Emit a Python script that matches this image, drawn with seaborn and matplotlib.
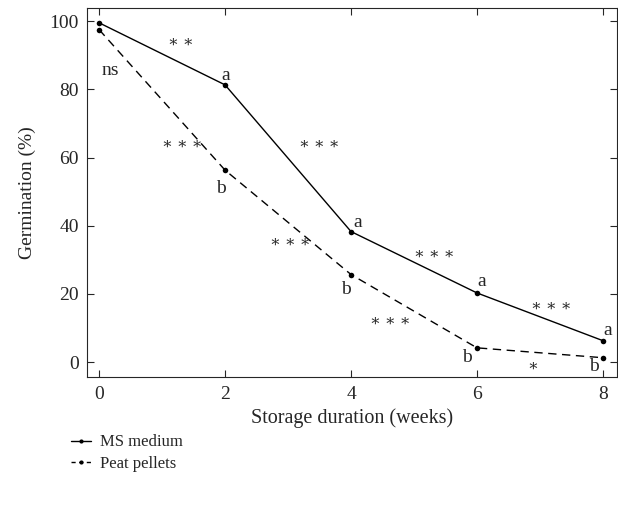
import numpy as np
import pandas as pd
import matplotlib
matplotlib.use("Agg")
import matplotlib.pyplot as plt
import seaborn as sns
from matplotlib.lines import Line2D

# data
weeks = [0, 2, 4, 6, 8]
ms_medium = [99.5, 81.3, 38.3, 20.3, 6.3]
peat_pellets = [97.5, 56.3, 25.7, 4.2, 1.3]

# group letters next to each point
ms_letters = ["", "a", "a", "a", "a"]
peat_letters = ["", "b", "b", "b", "b"]

# significance marks between sampling dates
sig_x = [0.175, 1.3, 1.32, 3.5, 3.03, 5.33, 4.62, 7.18, 6.89]
sig_y = [85.6, 93.5, 63.6, 63.6, 35, 31.4, 11.8, 16.2, -1.4]
sig_txt = ["ns", "∗ ∗", "∗ ∗ ∗", "∗ ∗ ∗", "∗ ∗ ∗", "∗ ∗ ∗", "∗ ∗ ∗", "∗ ∗ ∗", "∗"]

# label offsets from the point, in pixels (dx, dy)
a_off = [(0, 0), (1, 5), (6.5, 5), (5, 6.5), (4.5, 6)]
b_off = [(0, 0), (-4, -23), (-5, -19), (-10, -14), (-9, -13)]

df = pd.DataFrame({
    "week": weeks * 2,
    "germ": ms_medium + peat_pellets,
    "medium": ["MS medium"] * len(weeks) + ["Peat pellets"] * len(weeks),
})

sns.set_style("ticks")
plt.rcParams["font.family"] = ["Liberation Serif", "DejaVu Serif"]
plt.rcParams["font.size"] = 13

fig = plt.figure(figsize=(6.18, 5.09), dpi=100)
ax = fig.add_axes([0.141, 0.259, 0.857, 0.725])

sns.lineplot(data=df, x="week", y="germ", style="medium",
             dashes={"MS medium": "", "Peat pellets": (6, 4)},
             markers={"MS medium": "o", "Peat pellets": "o"},
             color="black", linewidth=1.0, markersize=4,
             markeredgewidth=0, ax=ax, legend=False)

px = 0.72  # pixels -> points at 100 dpi
for x, y, t, (dx, dy) in zip(weeks, ms_medium, ms_letters, a_off):
    if t:
        ax.annotate(t, (x, y), xytext=(dx * px, dy * px), textcoords="offset points",
                    fontsize=14, ha="center", va="baseline")
for x, y, t, (dx, dy) in zip(weeks, peat_pellets, peat_letters, b_off):
    if t:
        ax.annotate(t, (x, y), xytext=(dx * px, dy * px), textcoords="offset points",
                    fontsize=14, ha="center", va="baseline")
for x, y, t in zip(sig_x, sig_y, sig_txt):
    ax.text(x, y, t, fontsize=14 if t == "ns" else 11.5, ha="center", va="center")

ax.set_xlim(-0.19, 8.22)
ax.set_ylim(-4.4, 103.8)
ax.set_xticks([0, 2, 4, 6, 8])
ax.set_yticks([0, 20, 40, 60, 80, 100])
ax.tick_params(direction="in", top=True, right=True, labeltop=False,
               labelright=False, labelsize=14, length=5, width=0.8, pad=6)
ax.set_xlabel("Storage duration (weeks)", fontsize=14.5, labelpad=4)
ax.set_ylabel("Germination (%)", fontsize=14, labelpad=10)
for s in ax.spines.values():
    s.set_linewidth(0.8)

handles = [
    Line2D([], [], color="black", lw=1.0, marker="o", markersize=3, markeredgewidth=0),
    Line2D([], [], color="black", lw=1.0, ls=(0, (3, 2.5)), marker="o", markersize=3, markeredgewidth=0),
]
fig.legend(handles, ["MS medium", "Peat pellets"], loc="upper left",
           bbox_to_anchor=(0.09, 0.176), frameon=False, fontsize=12,
           handlelength=1.25, handletextpad=0.5, labelspacing=0.32)

fig.savefig("out.png", dpi=100)
